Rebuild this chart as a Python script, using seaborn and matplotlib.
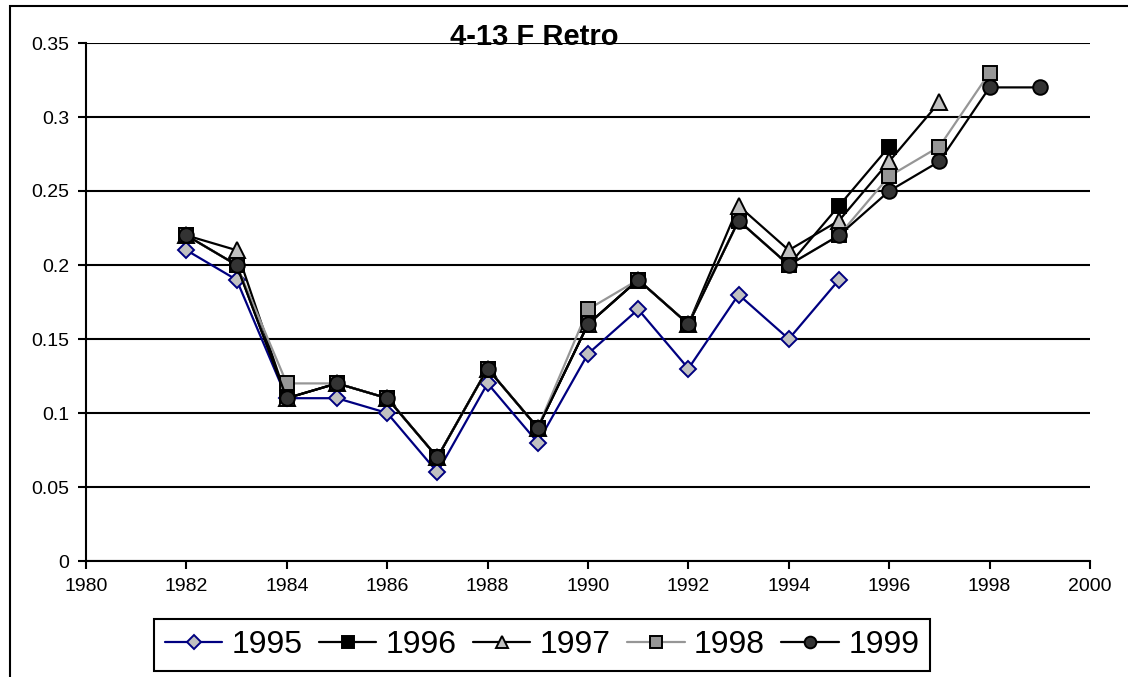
"""
4-13 F Retro: retrospective estimates by assessment year
"""
import matplotlib
matplotlib.use("Agg")
import matplotlib.pyplot as plt
from matplotlib.patches import Rectangle
from matplotlib.ticker import FuncFormatter, MultipleLocator
import seaborn as sns
import pandas as pd

# data
years_1995 = list(range(1982, 1996))
f_1995 = [0.21, 0.19, 0.11, 0.11, 0.10, 0.06, 0.12, 0.08, 0.14, 0.17, 0.13, 0.18, 0.15, 0.19]

years_1996 = list(range(1982, 1997))
f_1996 = [0.22, 0.20, 0.11, 0.12, 0.11, 0.07, 0.13, 0.09, 0.16, 0.19, 0.16, 0.23, 0.20, 0.24, 0.28]

years_1997 = list(range(1982, 1998))
f_1997 = [0.22, 0.21, 0.11, 0.12, 0.11, 0.07, 0.13, 0.09, 0.16, 0.19, 0.16, 0.24, 0.21, 0.23, 0.27, 0.31]

years_1998 = list(range(1982, 1999))
f_1998 = [0.22, 0.20, 0.12, 0.12, 0.11, 0.07, 0.13, 0.09, 0.17, 0.19, 0.16, 0.23, 0.20, 0.22, 0.26, 0.28, 0.33]

years_1999 = list(range(1982, 2000))
f_1999 = [0.22, 0.20, 0.11, 0.12, 0.11, 0.07, 0.13, 0.09, 0.16, 0.19, 0.16, 0.23, 0.20, 0.22, 0.25, 0.27, 0.32, 0.32]

series_labels = ["1995", "1996", "1997", "1998", "1999"]
series_years = [years_1995, years_1996, years_1997, years_1998, years_1999]
series_values = [f_1995, f_1996, f_1997, f_1998, f_1999]

# line colour, marker, face colour, marker size
styles = {
    "1995": dict(color="#000080", marker="D", markerfacecolor="#C0C0C0", markeredgecolor="#000080", markersize=8.5),
    "1996": dict(color="#000000", marker="s", markerfacecolor="#000000", markeredgecolor="#000000", markersize=10.5),
    "1997": dict(color="#000000", marker="^", markerfacecolor="#C0C0C0", markeredgecolor="#000000", markersize=11.5),
    "1998": dict(color="#969696", marker="s", markerfacecolor="#969696", markeredgecolor="#000000", markersize=10.5),
    "1999": dict(color="#000000", marker="o", markerfacecolor="#333333", markeredgecolor="#000000", markersize=10.5),
}

sns.set_theme(style="white")
plt.rcParams["font.family"] = ["Liberation Sans", "DejaVu Sans"]
plt.rcParams["text.color"] = "black"

fig = plt.figure(figsize=(11.28, 6.77), dpi=100)
ax = fig.add_axes([86 / 1128, 1 - 561 / 677, (1090 - 86) / 1128, (561 - 43) / 677])

for label, yrs, vals in zip(series_labels, series_years, series_values):
    df = pd.DataFrame({"year": yrs, "F": vals})
    sns.lineplot(data=df, x="year", y="F", ax=ax, errorbar=None, label=label,
                 linewidth=1.6, markeredgewidth=1.4, **styles[label])

ax.set_xlim(1980, 2000)
ax.set_ylim(0, 0.35)
ax.xaxis.set_major_locator(MultipleLocator(2))
ax.yaxis.set_major_locator(MultipleLocator(0.05))
ax.yaxis.set_major_formatter(FuncFormatter(lambda v, p: f"{v:g}"))
ax.set_xlabel("")
ax.set_ylabel("")

ax.grid(axis="y", color="black", linewidth=1.5)
ax.set_axisbelow(True)
for side in ["top", "right"]:
    ax.spines[side].set_visible(False)
for side in ["left", "bottom"]:
    ax.spines[side].set_color("black")
    ax.spines[side].set_linewidth(1.5)
ax.tick_params(axis="both", direction="out", length=6, width=1.5, color="black",
               labelsize=14, labelcolor="black", bottom=True, left=True, pad=6)

fig.text(450 / 1128, 1 - 45 / 677, "4-13 F Retro", ha="left", va="baseline",
         fontsize=21, fontweight="bold", color="black")

leg = ax.legend(loc="center", bbox_to_anchor=(542 / 1128, 1 - 645 / 677),
                bbox_transform=fig.transFigure, ncol=5, fontsize=23,
                frameon=True, fancybox=False, edgecolor="black", framealpha=1,
                handlelength=1.8, handletextpad=0.3, columnspacing=0.5,
                borderpad=0.35, borderaxespad=0, markerscale=0.8,
                labelcolor="black")
leg.get_frame().set_linewidth(1.5)

# chart area border (only top and left edges fall inside the image)
fig.patches.append(Rectangle((10 / 1128, -0.5), 3, 0.5 + 1 - 6 / 677, transform=fig.transFigure,
                             fill=False, edgecolor="black", linewidth=1.5, clip_on=False))

fig.savefig("out.png", dpi=100, facecolor="white")
